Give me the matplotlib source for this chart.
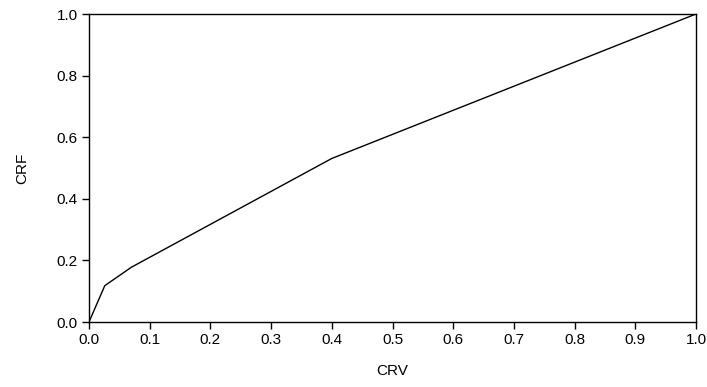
import matplotlib
matplotlib.use("Agg")
import matplotlib.pyplot as plt

crv = [0.0, 0.026, 0.070, 0.40, 1.0]
crf = [0.0, 0.118, 0.178, 0.531, 1.0]
xticks = [0.0, 0.1, 0.2, 0.3, 0.4, 0.5, 0.6, 0.7, 0.8, 0.9, 1.0]
yticks = [0.0, 0.2, 0.4, 0.6, 0.8, 1.0]

plt.rcParams['font.family'] = ['Liberation Sans', 'DejaVu Sans']
fig = plt.figure(figsize=(7.07, 3.87), dpi=100)
ax = fig.add_axes([89/707, 1-322/387, (696-89)/707, (322-14)/387])
ax.plot(crv, crf, color='black', linewidth=1.0)
ax.set_xlim(0, 1)
ax.set_ylim(0, 1)
ax.set_xticks(xticks)
ax.set_yticks(yticks)
ax.set_xticklabels([f"{t:.1f}" for t in xticks])
ax.set_yticklabels([f"{t:.1f}" for t in yticks])
ax.tick_params(direction='out', length=5, width=1, labelsize=11, top=False, right=False, pad=3)
for s in ax.spines.values():
    s.set_linewidth(1.0)
ax.set_xlabel("CRV", fontsize=11, labelpad=12)
ax.set_ylabel("CRF", fontsize=11, labelpad=20)
fig.savefig("out.png", dpi=100)
